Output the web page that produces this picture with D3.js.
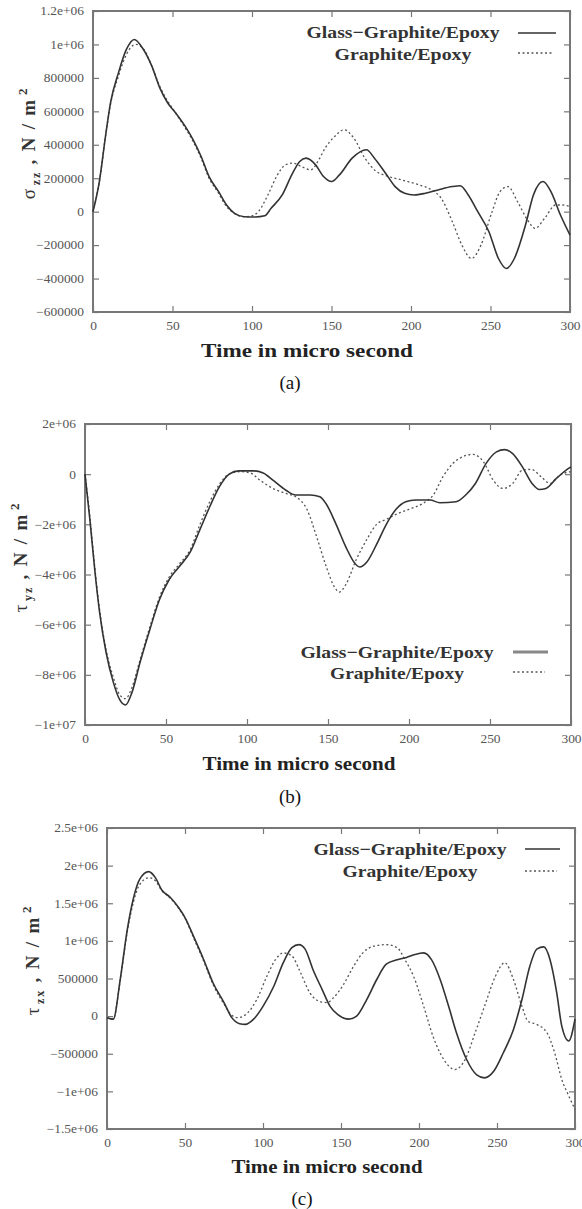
<!DOCTYPE html>
<html>
<head>
<meta charset="utf-8">
<script src="https://cdn.jsdelivr.net/npm/d3@7"></script>
<style>
  body { margin: 0; background: #fff; }
  svg { display: block; }
  .tick text { font-family: "Liberation Serif", "Times New Roman", serif; font-size: 12px; fill: #555; }
  .domain { display: none; }
  .tick line { stroke: #777; stroke-width: 1.2; }
</style>
</head>
<body>
<div id="chart"></div>
<script>
// x ticks (shared by all panels)
const xTicks = [0, 50, 100, 150, 200, 250, 300];
const xTickLabels = ["0", "50", "100", "150", "200", "250", "300"];

const seriesNames = ["Glass\u2212Graphite/Epoxy", "Graphite/Epoxy"];

// ---- panel (a): sigma_zz ----
const yTicksA = [-600000, -400000, -200000, 0, 200000, 400000, 600000, 800000, 1000000, 1200000];
const yTickLabelsA = ["\u2212600000", "\u2212400000", "\u2212200000", "0", "200000", "400000", "600000", "800000", "1e+06", "1.2e+06"];
const timeGlassA = [0, 4, 8, 11, 16, 21, 26, 31, 37, 42, 47, 52, 58, 63, 68, 73, 79, 84, 89, 95, 102, 108, 112, 119, 125, 130, 134, 140, 145, 150, 155, 163, 172, 177, 184, 190, 196, 202, 209, 217, 226, 231, 236, 242, 249, 255, 260, 265, 272, 277, 283, 288, 294, 300];
const valGlassA = [0, 180000, 460000, 650000, 830000, 970000, 1030000, 980000, 870000, 740000, 650000, 590000, 510000, 430000, 330000, 210000, 120000, 40000, -10000, -30000, -32000, -25000, 20000, 100000, 220000, 300000, 320000, 280000, 210000, 180000, 220000, 320000, 370000, 320000, 230000, 150000, 110000, 100000, 110000, 130000, 150000, 155000, 100000, 0, -120000, -280000, -340000, -280000, -80000, 100000, 180000, 120000, -20000, -140000];
const timeGraphA = [0, 4, 8, 11, 16, 21, 27, 32, 37, 42, 47, 52, 58, 63, 68, 73, 79, 84, 89, 95, 100, 104, 110, 116, 121, 126, 131, 137, 142, 146, 152, 158, 164, 171, 177, 186, 194, 205, 213, 219, 226, 232, 238, 244, 251, 256, 261, 267, 274, 278, 284, 291, 295, 300];
const valGraphA = [0, 180000, 460000, 640000, 810000, 940000, 1000000, 970000, 870000, 750000, 660000, 590000, 500000, 420000, 320000, 200000, 110000, 30000, -10000, -30000, -25000, 0, 100000, 220000, 280000, 290000, 270000, 250000, 310000, 380000, 450000, 490000, 440000, 320000, 250000, 210000, 190000, 160000, 130000, 80000, -60000, -200000, -280000, -200000, 0, 120000, 150000, 60000, -60000, -100000, -40000, 40000, 40000, 30000];

// ---- panel (b): tau_yz ----
const yTicksB = [-10000000, -8000000, -6000000, -4000000, -2000000, 0, 2000000];
const yTickLabelsB = ["\u22121e+07", "\u22128e+06", "\u22126e+06", "\u22124e+06", "\u22122e+06", "0", "2e+06"];
const timeGlassB = [0, 3, 6, 9, 13, 17.5, 21.5, 25, 29, 34, 40, 46, 52, 58, 65, 71, 77, 83, 89, 95, 104, 110, 116, 124, 130, 139, 145, 149, 155, 161, 166, 169.5, 174, 180, 186, 192, 198, 204, 213, 219, 229, 235, 241, 247.5, 254, 259, 264, 270, 276, 280.5, 284.5, 291, 297, 300];
const valGlassB = [0, -1800000, -3800000, -5500000, -7100000, -8300000, -9000000, -9200000, -8700000, -7500000, -6200000, -5000000, -4200000, -3700000, -3100000, -2200000, -1300000, -500000, 0, 130000, 130000, 50000, -240000, -640000, -830000, -830000, -900000, -1200000, -2000000, -2900000, -3500000, -3700000, -3500000, -2800000, -2000000, -1400000, -1100000, -1030000, -1030000, -1140000, -1100000, -830000, -370000, 420000, 890000, 980000, 820000, 290000, -370000, -610000, -570000, -170000, 160000, 290000];
const timeGraphB = [0, 3, 6, 9, 13, 17.5, 21.5, 25, 29, 34, 40, 46, 52, 58, 65, 71, 77, 83, 89, 96, 102, 108, 116, 124, 130, 137, 143, 149, 154, 157, 161, 167.5, 174, 180, 186, 192, 200, 208.5, 215, 221, 227, 233, 239.5, 246, 252, 258, 264, 270, 275.5, 281.5, 287, 293, 300];
const valGraphB = [0, -1700000, -3700000, -5400000, -7000000, -8100000, -8800000, -8950000, -8500000, -7400000, -6100000, -4900000, -4100000, -3600000, -3000000, -2000000, -1100000, -400000, 0, 100000, 50000, -240000, -570000, -770000, -900000, -1400000, -2500000, -3700000, -4500000, -4700000, -4400000, -3400000, -2600000, -2000000, -1800000, -1600000, -1400000, -1170000, -830000, -100000, 420000, 690000, 790000, 490000, -240000, -570000, -370000, 160000, 190000, -100000, -370000, -40000, 100000];

// ---- panel (c): tau_zx ----
const yTicksC = [-1500000, -1000000, -500000, 0, 500000, 1000000, 1500000, 2000000, 2500000];
const yTickLabelsC = ["\u22121.5e+06", "\u22121e+06", "\u2212500000", "0", "500000", "1e+06", "1.5e+06", "2e+06", "2.5e+06"];
const timeGlassC = [0, 4, 8.5, 13, 17, 21, 26.7, 31, 35, 40.5, 46, 50, 55.5, 62, 68, 75, 80, 85, 88.6, 94, 100, 107, 113, 118.5, 123, 127, 132, 138, 143, 148, 155, 160, 166.5, 173, 179, 186, 192, 197.5, 203, 208, 213.5, 219, 224, 230.6, 237, 242, 248, 254, 260.5, 266, 271, 275.5, 280, 284, 288.3, 291.5, 296, 300];
const valGlassC = [-20000, -40000, 490000, 1150000, 1570000, 1820000, 1920000, 1840000, 1680000, 1580000, 1440000, 1310000, 1060000, 750000, 440000, 180000, -20000, -100000, -110000, -40000, 130000, 400000, 710000, 910000, 950000, 890000, 620000, 350000, 130000, 20000, -40000, 0, 220000, 490000, 690000, 750000, 780000, 820000, 840000, 750000, 490000, 130000, -220000, -580000, -780000, -820000, -730000, -490000, -180000, 220000, 660000, 890000, 920000, 750000, 310000, -130000, -330000, -40000];
const timeGraphC = [0, 4, 8.5, 13, 17, 21, 27, 31, 35, 40.5, 46, 50, 55.5, 62, 68, 75, 80, 84, 90, 96, 102.5, 108, 113, 118.5, 124, 130, 137, 141, 145, 151.6, 158, 164, 171, 179, 186, 191, 196.5, 203, 209, 216, 223, 229.5, 236, 242, 249, 255, 260.5, 266, 270, 275.5, 282, 287, 291.5, 296, 300];
const valGraphC = [-20000, -40000, 480000, 1120000, 1520000, 1750000, 1840000, 1800000, 1670000, 1570000, 1430000, 1300000, 1040000, 730000, 420000, 160000, 10000, -20000, 40000, 220000, 530000, 750000, 840000, 800000, 580000, 310000, 190000, 180000, 240000, 420000, 660000, 840000, 930000, 950000, 910000, 750000, 530000, 130000, -270000, -580000, -710000, -580000, -220000, 130000, 530000, 710000, 490000, 130000, -70000, -110000, -220000, -490000, -840000, -1060000, -1240000];

// layout of the three panels (pixels)
const panels = [
  {
    box: { left: 93, right: 570, top: 11, bottom: 312 },
    yDomain: [-600000, 1200000], yTicks: yTicksA, yLabels: yTickLabelsA,
    glass: [timeGlassA, valGlassA], graph: [timeGraphA, valGraphA],
    sym: "\u03c3", sub: "zz", yTitle: { x: 35, y: 143 },
    xTitle: { x: 307, y: 357, w: 212 }, tag: { text: "(a)", x: 290, y: 389 },
    legend: { cx: 403, rows: [38, 60], w: [193, 137], lines: [33, 53], lx: [518, 556] }
  },
  {
    box: { left: 85, right: 571, top: 424, bottom: 725 },
    yDomain: [-10000000, 2000000], yTicks: yTicksB, yLabels: yTickLabelsB,
    glass: [timeGlassB, valGlassB], graph: [timeGraphB, valGraphB],
    sym: "\u03c4", sub: "yz", yTitle: { x: 27, y: 557 },
    xTitle: { x: 299, y: 770, w: 193 }, tag: { text: "(b)", x: 290, y: 803 },
    legend: { cx: 397, rows: [658, 679], w: [193, 134], lines: [652, 672], lx: [513, 548], thick: true }
  },
  {
    box: { left: 107, right: 575, top: 828, bottom: 1129 },
    yDomain: [-1500000, 2500000], yTicks: yTicksC, yLabels: yTickLabelsC,
    glass: [timeGlassC, valGlassC], graph: [timeGraphC, valGraphC],
    sym: "\u03c4", sub: "zx", yTitle: { x: 39, y: 960 },
    xTitle: { x: 327, y: 1173, w: 191 }, tag: { text: "(c)", x: 302, y: 1205 },
    legend: { cx: 410, rows: [855, 877], w: [193, 135], lines: [849, 871], lx: [525, 560] }
  }
];

const width = 582;
const height = 1209;
const serif = '"Liberation Serif", "Times New Roman", serif';

const svg = d3.select("#chart")
  .append("svg")
  .attr("width", width)
  .attr("height", height);

function drawPanel(p) {
  const b = p.box;
  const x = d3.scaleLinear().domain([0, 300]).range([b.left, b.right]);
  const y = d3.scaleLinear().domain(p.yDomain).range([b.bottom, b.top]);
  const g = svg.append("g");

  // ticks pointing inward on all four sides
  g.append("g")
    .attr("transform", `translate(0,${b.bottom})`)
    .call(d3.axisBottom(x).tickValues(xTicks).tickSize(-6).tickPadding(9)
      .tickFormat((d, i) => xTickLabels[i]));
  g.append("g")
    .attr("transform", `translate(0,${b.top})`)
    .call(d3.axisTop(x).tickValues(xTicks).tickSize(-6).tickFormat(""));
  g.append("g")
    .attr("transform", `translate(${b.left},0)`)
    .call(d3.axisLeft(y).tickValues(p.yTicks).tickSize(-6).tickPadding(8)
      .tickFormat((d, i) => p.yLabels[i]));
  g.append("g")
    .attr("transform", `translate(${b.right},0)`)
    .call(d3.axisRight(y).tickValues(p.yTicks).tickSize(-6).tickFormat(""));

  // stretch tick labels a little horizontally like the scanned figure
  g.selectAll(".tick text").attr("transform", "scale(1.12,1)");

  // frame
  g.append("rect")
    .attr("x", b.left).attr("y", b.top)
    .attr("width", b.right - b.left).attr("height", b.bottom - b.top)
    .attr("fill", "none").attr("stroke", "#777").attr("stroke-width", 2);

  const line = d3.line()
    .x(d => x(d[0]))
    .y(d => y(d[1]))
    .curve(d3.curveMonotoneX);

  const graphPts = p.graph[0].map((t, i) => [t, p.graph[1][i]]);
  const glassPts = p.glass[0].map((t, i) => [t, p.glass[1][i]]);

  g.append("path")
    .datum(graphPts)
    .attr("d", line)
    .attr("fill", "none")
    .attr("stroke", "#555")
    .attr("stroke-width", 1.3)
    .attr("stroke-dasharray", "2,2.5");

  g.append("path")
    .datum(glassPts)
    .attr("d", line)
    .attr("fill", "none")
    .attr("stroke", "#333")
    .attr("stroke-width", 1.6);

  // legend
  const L = p.legend;
  seriesNames.forEach((name, i) => {
    g.append("text")
      .attr("x", L.cx).attr("y", L.rows[i])
      .attr("text-anchor", "middle")
      .attr("textLength", L.w[i])
      .attr("lengthAdjust", "spacingAndGlyphs")
      .style("font-family", serif).style("font-weight", "bold")
      .style("font-size", "17px").style("fill", "#333")
      .text(name);
  });
  g.append("line")
    .attr("x1", L.lx[0]).attr("x2", L.lx[1])
    .attr("y1", L.lines[0]).attr("y2", L.lines[0])
    .attr("stroke", L.thick ? "#888" : "#333")
    .attr("stroke-width", L.thick ? 3 : 1.6);
  g.append("line")
    .attr("x1", L.lx[0]).attr("x2", L.lx[1] - 3)
    .attr("y1", L.lines[1]).attr("y2", L.lines[1])
    .attr("stroke", "#555").attr("stroke-width", 1.3)
    .attr("stroke-dasharray", "2,2.5");

  // x axis title
  g.append("text")
    .attr("x", p.xTitle.x).attr("y", p.xTitle.y)
    .attr("text-anchor", "middle")
    .attr("textLength", p.xTitle.w)
    .attr("lengthAdjust", "spacingAndGlyphs")
    .style("font-family", serif).style("font-weight", "bold")
    .style("font-size", "19px").style("fill", "#222")
    .text("Time in micro second");

  // y axis title: symbol_sub , N / m^2
  const yt = g.append("text")
    .attr("transform", `translate(${p.yTitle.x},${p.yTitle.y}) rotate(-90)`)
    .attr("text-anchor", "middle")
    .style("font-family", serif).style("fill", "#333")
    .style("font-size", "19px")
    .style("letter-spacing", "1.8px");
  yt.append("tspan").text(p.sym);
  yt.append("tspan").attr("dy", 5).attr("dx", 2).style("font-size", "12px")
    .style("font-weight", "bold").text(p.sub);
  yt.append("tspan").attr("dy", -5).style("font-weight", "bold").text(" ,  N / m");
  yt.append("tspan").attr("dy", -8).attr("dx", 3).style("font-size", "13px")
    .style("font-weight", "bold").text("2");

  // panel tag
  g.append("text")
    .attr("x", p.tag.x).attr("y", p.tag.y)
    .attr("text-anchor", "middle")
    .style("font-family", serif).style("font-size", "19px").style("fill", "#111")
    .text(p.tag.text);
}

panels.forEach(drawPanel);
</script>
</body>
</html>
